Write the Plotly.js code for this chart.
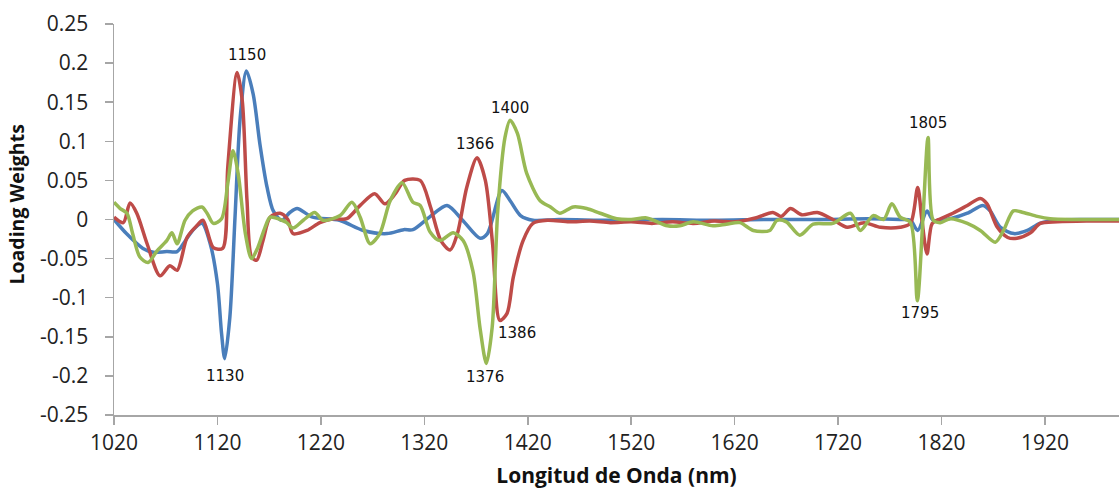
<!DOCTYPE html>
<html>
<head>
<meta charset="utf-8">
<script src="https://cdn.plot.ly/plotly-3.0.1.min.js"></script>
<style>html,body{margin:0;padding:0;background:#fff;}#chart{width:1119px;height:489px;}</style>
</head>
<body>
<div id="chart"></div>
<script>
// ---- Data ----
const blueX = [1020,1032,1048,1058,1071,1081,1087,1096,1105,1113,1120,1124,1127,1132,1137,1142,1148,1154.6,1161,1168,1174,1182,1190,1197,1212,1238,1261,1284,1300,1309,1325,1342,1357,1374,1381,1395,1403,1413,1425,1450,1500,1550,1600,1650,1700,1750,1780,1790,1797,1806,1812,1831,1845,1860,1867,1877,1890,1903,1915,1930,1960,1992];
const blueY = [0.000,-0.018,-0.037,-0.042,-0.041,-0.041,-0.031,-0.014,-0.005,-0.031,-0.082,-0.146,-0.178,-0.125,0.003,0.13,0.19,0.16,0.097,0.041,0.011,-0.001,0.009,0.014,0.003,-0.001,-0.014,-0.018,-0.013,-0.013,0.003,0.018,-0.001,-0.024,-0.018,0.037,0.024,0.005,-0.001,0.000,-0.001,0.000,-0.001,0.000,0.000,0.001,0.000,-0.001,-0.014,0.011,-0.001,0.002,0.008,0.018,0.011,-0.010,-0.018,-0.014,-0.005,-0.001,0.000,0.000];

const redX = [1020,1029,1035.5,1042,1052,1064.5,1074,1081,1090.6,1100,1106,1116,1125,1130,1139,1144,1148.6,1153,1158,1164,1171,1180.5,1188,1193,1206.6,1219,1232,1245,1258,1272,1282,1292,1301,1316,1326,1336,1345,1352,1361,1371,1379,1386,1393,1400,1406,1415.5,1425,1439,1460,1480,1500,1520,1540,1560,1580,1600,1620,1640,1657,1665,1674,1685,1700,1715,1729,1745,1761,1780,1790,1797,1801,1806,1811,1819,1831,1845,1857.5,1864,1874,1884,1893,1906,1915.5,1932,1960,1992];
const redY = [0.003,-0.004,0.021,0.008,-0.031,-0.072,-0.059,-0.065,-0.023,-0.008,-0.001,-0.036,-0.037,0.067,0.188,0.152,0.024,-0.048,-0.052,-0.027,0.003,0.008,0.000,-0.018,-0.014,-0.004,0.001,0.001,0.018,0.033,0.020,0.033,0.050,0.050,0.016,-0.027,-0.039,-0.018,0.041,0.079,0.050,-0.031,-0.129,-0.120,-0.074,-0.027,-0.005,-0.001,-0.003,-0.002,-0.004,-0.003,-0.005,-0.003,-0.005,-0.002,-0.003,0.002,0.009,0.004,0.014,0.006,0.009,0.000,-0.010,-0.004,-0.010,-0.010,-0.005,0.041,0.000,-0.044,-0.005,0.001,0.008,0.018,0.027,0.020,-0.010,-0.023,-0.024,-0.017,-0.005,-0.003,-0.002,-0.002];

const greenX = [1020,1026,1032.5,1038,1045,1053,1061.6,1071,1076,1081,1088.7,1096,1105,1110,1116,1124,1130,1135,1140,1147,1153,1159,1166,1171,1180.5,1187,1193,1203,1214,1222,1238.6,1250,1258,1267.6,1277,1287,1298.5,1309,1316,1325.6,1335,1348,1357.5,1367,1374,1380,1385.6,1391,1398,1403,1410,1419,1432,1442,1451,1464,1477,1490,1506,1520,1535,1555,1567,1580,1599,1612,1625,1638,1654,1661,1670,1683,1696,1715,1732,1741.5,1754,1764,1772,1780,1790,1796.6,1802,1807,1812,1819,1828.5,1845,1857.5,1872,1880,1889.5,1899,1912.6,1925,1950,1992];
const greenY = [0.022,0.014,0.008,-0.018,-0.048,-0.055,-0.040,-0.027,-0.017,-0.031,-0.001,0.011,0.016,0.008,-0.005,0.001,0.046,0.088,0.059,-0.018,-0.050,-0.036,-0.010,0.003,0.000,-0.004,-0.011,-0.001,0.009,-0.001,0.005,0.022,0.003,-0.031,-0.018,0.024,0.047,0.022,0.018,-0.016,-0.027,-0.017,-0.027,-0.066,-0.140,-0.184,-0.138,0.011,0.105,0.127,0.110,0.059,0.024,0.016,0.008,0.016,0.014,0.008,0.001,0.000,0.002,-0.008,-0.008,-0.003,-0.008,-0.006,-0.004,-0.014,-0.014,-0.001,-0.003,-0.020,-0.006,-0.005,0.008,-0.014,0.005,0.000,0.020,0.003,-0.004,-0.104,0.000,0.105,-0.001,-0.004,0.001,-0.005,-0.014,-0.029,-0.014,0.011,0.009,0.004,0.001,0.000,0.000];

const peakLabels = ['1150','1130','1366','1400','1386','1376','1805','1795'];
const peakLabelX = [1148.6,1127,1369,1403,1410,1379,1807,1799.5];
const peakLabelY = [0.21,-0.2,0.097,0.142,-0.145,-0.202,0.123,-0.119];

const xTickVals = [1020,1120,1220,1320,1420,1520,1620,1720,1820,1920];
const xTickText = ['1020','1120','1220','1320','1420','1520','1620','1720','1820','1920'];
const yTickVals = [0.25,0.2,0.15,0.1,0.05,0,-0.05,-0.1,-0.15,-0.2,-0.25];
const yTickText = ['0.25','0.2','0.15','0.1','0.05','0','-0.05','-0.1','-0.15','-0.2','-0.25'];

const xTitle = 'Longitud de Onda (nm)';
const yTitle = 'Loading Weights';

// ---- Chart ----
function line(x, y, color, name) {
  return {x: x, y: y, type: 'scatter', mode: 'lines', name: name,
    line: {color: color, width: 3.5, shape: 'spline', smoothing: 0.8}, hoverinfo: 'skip'};
}
const traces = [
  line(blueX, blueY, '#4a7ebb', 'Serie 1'),
  line(redX, redY, '#be4b48', 'Serie 2'),
  line(greenX, greenY, '#98b954', 'Serie 3')
];

const annotations = peakLabels.map((t, i) => ({
  x: peakLabelX[i], y: peakLabelY[i], xref: 'x', yref: 'y', text: t, showarrow: false,
  font: {family: 'DejaVu Sans', size: 15, color: '#111'}
}));
// y-axis title, placed as in the reference (slightly above the plot centre)
annotations.push({
  text: '<b>' + yTitle + '</b>', xref: 'paper', yref: 'paper', x: -0.097, y: 0.537,
  xanchor: 'center', yanchor: 'middle', textangle: -90, showarrow: false,
  font: {family: 'Open Sans', size: 19.5, color: '#111'}
});

const axisCommon = {
  showgrid: false, zeroline: false, showline: true, linecolor: '#a6a6a6', linewidth: 1.5,
  ticks: 'outside', ticklen: 8, tickcolor: '#a6a6a6', tickwidth: 1.5,
  tickfont: {family: 'Open Sans', size: 21, color: '#222'}
};

const layout = {
  width: 1119, height: 489,
  margin: {l: 114, r: 0, t: 24, b: 74},
  paper_bgcolor: '#fff', plot_bgcolor: '#fff',
  showlegend: false,
  xaxis: Object.assign({}, axisCommon, {
    range: [1020, 1991.6], tickmode: 'array', tickvals: xTickVals, ticktext: xTickText,
    title: {text: xTitle, font: {family: 'Open Sans', size: 21, color: '#111', weight: 'bold'}, standoff: 14},
    automargin: false
  }),
  yaxis: Object.assign({}, axisCommon, {
    range: [-0.25, 0.25], tickmode: 'array', tickvals: yTickVals, ticktext: yTickText,
    ticklabelstandoff: 12,
    automargin: false
  }),
  annotations: annotations
};

Plotly.newPlot('chart', traces, layout, {displayModeBar: false, staticPlot: true});
</script>
</body>
</html>
